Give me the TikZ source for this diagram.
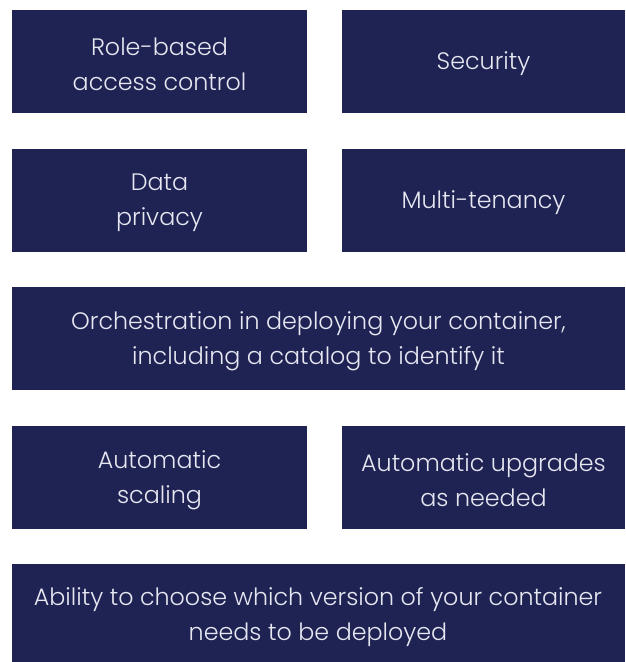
\documentclass[tikz,border=0pt]{standalone}
\usepackage{fontspec}
\setmainfont{Poppins}[UprightFont={* Light}]
\definecolor{navy}{HTML}{1F2354}
\definecolor{txt}{HTML}{E6E7F0}
\begin{document}
\begin{tikzpicture}[x=1pt,y=-1pt,
  card/.style={fill=navy, draw=none, inner sep=0pt, text=txt, align=center,
    yshift=-2.5pt, font=\fontsize{23.8}{35}\selectfont}]
\useasboundingbox (0,0) rectangle (625,662);
\fill[white] (0,0) rectangle (625,662);
\newcommand{\card}[6]{%
  \fill[navy] (#2,#3) rectangle (#4,#5);
  \node[card] (#1) at ({(#2+#4)/2},{(#3+#5)/2}) {#6};}
\card{rbac}{12}{10}{307}{113}{Role-based\\access control}
\card{sec}{342}{10}{625}{113}{Security}
\card{priv}{12}{149}{307}{252}{Data\\privacy}
\card{mt}{342}{149}{625}{252}{Multi-tenancy}
\card{orch}{12}{287}{625}{390}{Orchestration in deploying your container,\\including a catalog to identify it}
\card{scal}{12}{426}{307}{529}{Automatic\\scaling}
\card{upg}{342}{426}{625}{529}{Automatic upgrades\\as needed}
\fill[navy] (12,564) rectangle (625,662);
\node[card] (abil) at (318,615) {Ability to choose which version of your container\\needs to be deployed};
\end{tikzpicture}
\end{document}
